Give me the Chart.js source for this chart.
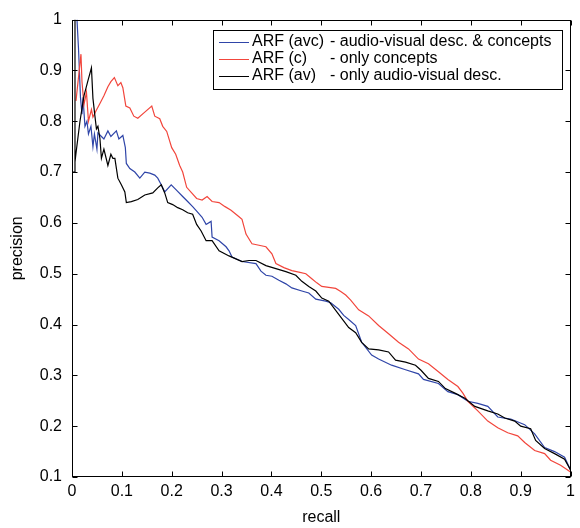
<!DOCTYPE html>
<html><head><meta charset="utf-8">
<script src="https://cdn.jsdelivr.net/npm/chart.js@4"></script>
<style>html,body{margin:0;padding:0;background:#fff}#wrap{width:580px;height:528px}</style>
</head><body><div id="wrap"><canvas id="c" width="580" height="528"></canvas></div>
<script>
const xTicks = [0,0.1,0.2,0.3,0.4,0.5,0.6,0.7,0.8,0.9,1];
const yTicks = [0.1,0.2,0.3,0.4,0.5,0.6,0.7,0.8,0.9,1];
const xTitle = 'recall';
const yTitle = 'precision';
const seriesNames = ['ARF (avc)','ARF (c)','ARF (av)'];
const seriesDesc = ['- audio-visual desc. & concepts','- only concepts','- only audio-visual desc.'];
const seriesColors = ['#2f45a8','#f2463c','#000000'];

const avcRecall = [0.01,0.01,0.013,0.017,0.02,0.022,0.026,0.03,0.033,0.038,0.042,0.045,0.05,0.052,0.059,0.064,0.072,0.078,0.089,0.094,0.102,0.107,0.109,0.116,0.126,0.136,0.146,0.156,0.166,0.172,0.179,0.186,0.199,0.21,0.222,0.232,0.242,0.251,0.261,0.269,0.279,0.281,0.295,0.309,0.315,0.321,0.341,0.369,0.379,0.389,0.401,0.415,0.429,0.441,0.461,0.475,0.489,0.509,0.519,0.535,0.545,0.555,0.569,0.581,0.601,0.615,0.641,0.669,0.695,0.705,0.735,0.754,0.774,0.794,0.814,0.834,0.854,0.88,0.908,0.928,0.948,0.968,0.988,1.0];
const avcPrecision = [1.0,1.0,0.944,0.847,0.814,0.847,0.79,0.8,0.775,0.79,0.75,0.775,0.745,0.777,0.77,0.765,0.781,0.77,0.781,0.765,0.772,0.748,0.717,0.707,0.70,0.688,0.70,0.698,0.694,0.688,0.675,0.661,0.675,0.664,0.652,0.642,0.632,0.622,0.611,0.597,0.603,0.572,0.565,0.553,0.545,0.533,0.524,0.52,0.505,0.497,0.495,0.487,0.48,0.472,0.466,0.462,0.45,0.446,0.443,0.43,0.418,0.41,0.398,0.365,0.34,0.332,0.32,0.311,0.303,0.292,0.284,0.268,0.262,0.249,0.245,0.239,0.218,0.214,0.203,0.185,0.158,0.15,0.139,0.114];

const cRecall = [0.008,0.018,0.02,0.024,0.029,0.033,0.039,0.042,0.048,0.056,0.064,0.072,0.078,0.085,0.092,0.098,0.102,0.108,0.116,0.124,0.132,0.146,0.16,0.166,0.176,0.182,0.19,0.2,0.208,0.216,0.222,0.23,0.24,0.25,0.261,0.271,0.281,0.295,0.307,0.319,0.335,0.341,0.349,0.361,0.375,0.389,0.401,0.409,0.425,0.441,0.455,0.469,0.481,0.491,0.501,0.515,0.529,0.539,0.549,0.559,0.575,0.595,0.615,0.635,0.655,0.675,0.695,0.715,0.735,0.754,0.774,0.784,0.794,0.814,0.834,0.854,0.874,0.894,0.908,0.928,0.948,0.96,0.98,1.0];
const cPrecision = [0.84,0.932,0.878,0.833,0.857,0.80,0.823,0.808,0.82,0.835,0.85,0.868,0.878,0.886,0.87,0.876,0.866,0.83,0.826,0.81,0.806,0.818,0.83,0.81,0.805,0.79,0.78,0.748,0.735,0.713,0.70,0.67,0.659,0.648,0.645,0.652,0.642,0.64,0.632,0.625,0.612,0.607,0.578,0.559,0.556,0.553,0.539,0.52,0.512,0.506,0.503,0.50,0.49,0.482,0.475,0.473,0.471,0.465,0.458,0.448,0.429,0.417,0.398,0.382,0.365,0.352,0.332,0.323,0.307,0.292,0.278,0.265,0.249,0.23,0.21,0.197,0.187,0.181,0.168,0.152,0.146,0.133,0.123,0.11];

const avRecall = [0,0.006,0.006,0.006,0.008,0.016,0.024,0.032,0.039,0.042,0.046,0.049,0.052,0.056,0.059,0.064,0.072,0.078,0.082,0.086,0.092,0.099,0.106,0.109,0.119,0.132,0.146,0.162,0.172,0.179,0.186,0.192,0.202,0.212,0.222,0.232,0.242,0.25,0.259,0.269,0.281,0.295,0.315,0.341,0.355,0.369,0.389,0.409,0.429,0.449,0.461,0.475,0.489,0.501,0.515,0.535,0.555,0.569,0.581,0.595,0.615,0.635,0.649,0.669,0.689,0.70,0.715,0.735,0.749,0.768,0.788,0.808,0.834,0.854,0.868,0.888,0.90,0.92,0.93,0.948,0.968,0.988,1.0];
const avPrecision = [0.7,0.7,1.0,0.72,0.737,0.8,0.85,0.88,0.905,0.845,0.81,0.785,0.79,0.766,0.727,0.745,0.713,0.735,0.727,0.727,0.688,0.675,0.661,0.64,0.642,0.646,0.655,0.659,0.669,0.675,0.659,0.64,0.636,0.63,0.626,0.62,0.617,0.597,0.584,0.565,0.565,0.545,0.535,0.524,0.526,0.526,0.516,0.51,0.504,0.497,0.485,0.475,0.466,0.452,0.446,0.42,0.394,0.384,0.365,0.352,0.35,0.346,0.33,0.326,0.32,0.31,0.294,0.288,0.274,0.265,0.255,0.239,0.23,0.224,0.216,0.21,0.2,0.195,0.172,0.156,0.146,0.135,0.114];

const FONT = "'Liberation Sans', Arial, sans-serif";
const toPts = (xs, ys) => xs.map((x, i) => ({x: x, y: ys[i]}));
const fmt = v => String(Math.round(v * 10) / 10);

const frame = {
  id: 'frame',
  afterDraw(chart) {
    const ctx = chart.ctx, a = chart.chartArea;
    const xs = chart.scales.x, ys = chart.scales.y;
    ctx.save();
    ctx.strokeStyle = '#000'; ctx.lineWidth = 1;
    const L = Math.round(a.left) + 0.5, R = Math.round(a.right) - 0.5, T = Math.round(a.top) + 0.5, B = Math.round(a.bottom) - 0.5;
    ctx.strokeRect(L, T, R - L, B - T);
    const tl = 5;
    ctx.beginPath();
    xTicks.forEach(v => {
      const p = Math.round(xs.getPixelForValue(v)) + 0.5;
      ctx.moveTo(p, B); ctx.lineTo(p, B - tl);
      ctx.moveTo(p, T); ctx.lineTo(p, T + tl);
    });
    yTicks.forEach(v => {
      const p = Math.round(ys.getPixelForValue(v)) + 0.5;
      ctx.moveTo(L, p); ctx.lineTo(L + tl, p);
      ctx.moveTo(R, p); ctx.lineTo(R - tl, p);
    });
    ctx.stroke();
    // legend
    const bx = 213.5, by = 30.5, bw = 349, bh = 59;
    ctx.fillStyle = '#fff';
    ctx.fillRect(bx, by, bw, bh);
    ctx.strokeRect(bx, by, bw, bh);
    ctx.font = '16px ' + FONT;
    ctx.textBaseline = 'middle';
    ctx.textAlign = 'left';
    seriesNames.forEach((n, i) => {
      const y = 41.5 + i * 17;
      ctx.strokeStyle = seriesColors[i];
      ctx.beginPath(); ctx.moveTo(219, Math.round(y) + 0.5); ctx.lineTo(249, Math.round(y) + 0.5); ctx.stroke();
      ctx.fillStyle = '#000';
      ctx.fillText(n, 252, y);
      ctx.fillText(seriesDesc[i], 330, y);
    });
    ctx.restore();
  }
};

new Chart(document.getElementById('c'), {
  type: 'line',
  data: {
    datasets: [
      {label: seriesNames[0], data: toPts(avcRecall, avcPrecision), borderColor: seriesColors[0], order: 2},
      {label: seriesNames[1], data: toPts(cRecall, cPrecision), borderColor: seriesColors[1], order: 1},
      {label: seriesNames[2], data: toPts(avRecall, avPrecision), borderColor: seriesColors[2], order: 0}
    ].map(d => Object.assign(d, {borderWidth: 1.2, pointRadius: 0, tension: 0, fill: false}))
  },
  options: {
    responsive: false,
    animation: false,
    devicePixelRatio: 1,
    layout: {padding: {top: 12, right: 7, left: 0, bottom: 0}},
    plugins: {legend: {display: false}, tooltip: {enabled: false}},
    scales: {
      x: {
        type: 'linear', min: 0, max: 1,
        grid: {display: false, drawTicks: false},
        border: {display: false},
        afterBuildTicks: s => { s.ticks = xTicks.map(v => ({value: v})); },
        afterFit: s => { s.height = 51; },
        ticks: {color: '#000', font: {family: FONT, size: 16}, padding: 5, maxRotation: 0, callback: v => fmt(v)},
        title: {display: true, text: xTitle, color: '#000', font: {family: FONT, size: 16}, padding: {top: 0, bottom: 1}}
      },
      y: {
        type: 'linear', min: 0.1, max: 1,
        grid: {display: false, drawTicks: false},
        border: {display: false},
        afterBuildTicks: s => { s.ticks = yTicks.map(v => ({value: v})); },
        afterFit: s => { s.width = 72; },
        ticks: {color: '#000', font: {family: FONT, size: 16}, padding: 10, callback: v => fmt(v)},
        title: {display: true, text: yTitle, color: '#000', font: {family: FONT, size: 16}, padding: {top: 8, bottom: 0}}
      }
    }
  },
  plugins: [frame]
});
</script>
</body></html>
